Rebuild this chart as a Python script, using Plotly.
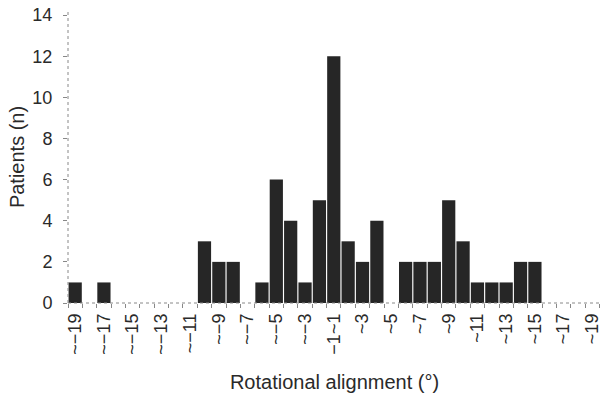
import plotly.graph_objects as go

# Bin labels (one per 1-degree bin, central bin is -1~1)
bins = [f"~\u2212{k}" for k in range(19, 1, -1)] + ["\u22121~1"] + [f"~{k}" for k in range(2, 20)]
patients = [1, 0, 1, 0, 0, 0, 0, 0, 0, 3, 2, 2, 0, 1, 6, 4, 1, 5,
            12,
            3, 2, 4, 0, 2, 2, 2, 5, 3, 1, 1, 1, 2, 2, 0, 0, 0, 0]
y_ticks = [0, 2, 4, 6, 8, 10, 12, 14]

x_idx = list(range(len(bins)))
label_idx = x_idx[::2]
label_txt = [bins[i] for i in label_idx]

font_fam = "Liberation Sans, Arial, sans-serif"
ink = "#2a2a2a"

fig = go.Figure()
fig.add_trace(go.Bar(
    x=x_idx, y=patients,
    marker=dict(color="#262626", line=dict(width=0)),
    hoverinfo="skip",
))

fig.update_layout(
    width=601, height=400,
    margin=dict(l=68, r=0, t=11, b=97),
    paper_bgcolor="white", plot_bgcolor="white",
    bargap=0.08,
    showlegend=False,
    font=dict(family=font_fam, color=ink, size=18),
)

fig.update_xaxes(
    range=[-0.5, 36.6],
    tickmode="array", tickvals=label_idx, ticktext=label_txt,
    tickangle=-90, ticks="", showgrid=False, zeroline=False, showline=False,
    tickfont=dict(size=18, color=ink), ticklabelstandoff=6,
    ticklabeloverflow="allow",
    minor=dict(tickmode="linear", tick0=-0.5, dtick=1, ticks="outside",
               ticklen=4, tickcolor="#888", tickwidth=1, showgrid=False),
    title=dict(text="Rotational alignment (°)", font=dict(size=20, color=ink), standoff=21),
    automargin=False,
)
fig.update_yaxes(
    range=[0, 14.2],
    tickmode="array", tickvals=y_ticks,
    ticks="outside", ticklen=4, tickcolor="#888", tickwidth=1,
    showgrid=False, zeroline=False, showline=False,
    tickfont=dict(size=18, color=ink), ticklabelstandoff=7,
    ticklabeloverflow="allow",
    title=dict(text="Patients (n)", font=dict(size=20, color=ink), standoff=2),
    automargin=False,
)

# dotted axis lines
fig.add_shape(type="line", xref="paper", yref="paper", x0=0, x1=0, y0=0, y1=1,
              line=dict(color="#888", width=1, dash="dot"))
fig.add_shape(type="line", xref="paper", yref="paper", x0=0, x1=1, y0=0, y1=0,
              line=dict(color="#888", width=1, dash="dot"))

fig.write_html("out.html", config={"displayModeBar": False},
               post_script="document.body.style.margin='0';document.body.style.padding='0';")
